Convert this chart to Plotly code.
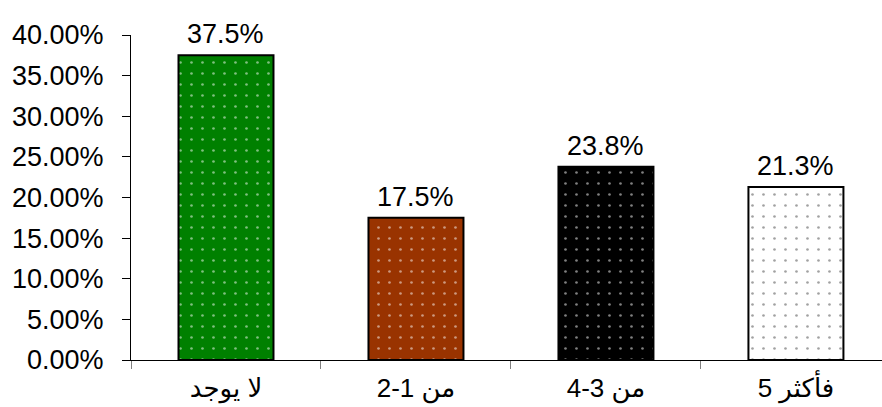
import plotly.graph_objects as go

categories = ["لا يوجد", "من 1-2", "من 3-4", "فأكثر 5"]
values = [0.375, 0.175, 0.238, 0.213]
labels = ["37.5%", "17.5%", "23.8%", "21.3%"]
bar_colors = ["#008000", "#993300", "#000000", "#FFFFFF"]
dot_colors = ["#FFFFFF", "#FFFFFF", "#FFFFFF", "#000000"]
tick_vals = [0, 0.05, 0.10, 0.15, 0.20, 0.25, 0.30, 0.35, 0.40]

FONT = "Liberation Sans, Arial, DejaVu Sans, sans-serif"

fig = go.Figure()
fig.add_trace(go.Bar(
    x=categories, y=values,
    marker=dict(color=bar_colors,
                line=dict(color="black", width=2),
                pattern=dict(shape=".", fgcolor=dot_colors, bgcolor=bar_colors,
                             size=11, solidity=0.045, fillmode="overlay")),
    width=0.5,
    hoverinfo="skip",
))

for c, v, t in zip(categories, values, labels):
    fig.add_annotation(x=c, y=v, text=t, showarrow=False, yanchor="bottom",
                       yshift=4, font=dict(family=FONT, size=27, color="black"))

fig.update_layout(
    width=882, height=407,
    margin=dict(l=131, r=0, t=35, b=47, autoexpand=False),
    paper_bgcolor="white", plot_bgcolor="white",
    showlegend=False,
    font=dict(family=FONT, size=27, color="black"),
)
fig.update_xaxes(
    range=[-0.5, 3.453], showline=True, linecolor="black", linewidth=1,
    ticks="outside", tickson="boundaries", ticklen=8, tickcolor="#808080",
    showgrid=False, tickfont=dict(size=26), ticklabelstandoff=5,
    automargin=False,
)
fig.update_yaxes(
    range=[0, 0.4], tickvals=tick_vals, tickformat=".2%",
    showline=True, linecolor="black", linewidth=1,
    ticks="outside", ticklen=8, tickcolor="black",
    showgrid=False, zeroline=False, ticklabelstandoff=13,
    automargin=False,
)

fig.write_html("out.html")
